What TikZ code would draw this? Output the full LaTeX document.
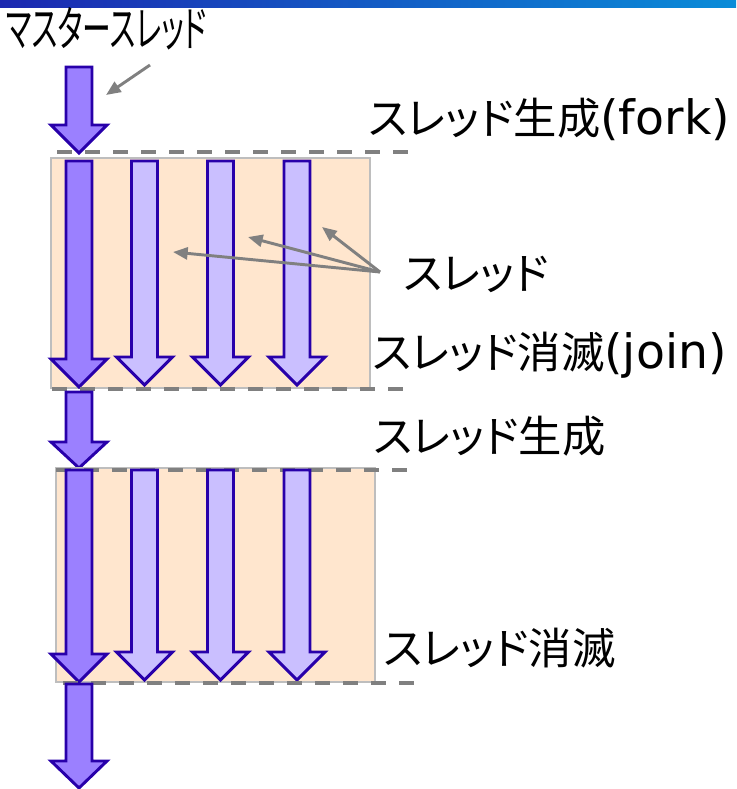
\documentclass[tikz,border=0pt]{standalone}
\usepackage{fontspec}
\newfontfamily\jp[RawFeature=+palt]{Noto Sans CJK JP}
\newfontfamily\latfam{DejaVu Sans}
\newcommand\lat{\latfam\fontsize{35.5pt}{38pt}\selectfont}
\usetikzlibrary{arrows.meta}
\definecolor{outl}{RGB}{40,0,170}
\definecolor{mfill}{RGB}{155,128,255}
\definecolor{tfill}{RGB}{202,191,255}
\definecolor{peach}{RGB}{255,230,206}
\definecolor{rborder}{RGB}{190,190,190}
\definecolor{dgray}{RGB}{128,128,128}
\definecolor{barL}{RGB}{28,40,176}
\definecolor{barR}{RGB}{10,140,216}
\tikzset{
  blk/.style={draw=outl, line width=2.2pt, line join=miter},
  region/.style={draw=rborder, line width=2.2pt, fill=peach},
  sep/.style={draw=dgray, line width=3pt, dash pattern=on 11pt off 10pt},
  pointer/.style={draw=dgray, line width=2.2pt, -{Triangle[length=11pt,width=9pt]}},
  lbl/.style={anchor=west, inner sep=0pt, font=\jp\fontsize{32.5pt}{38pt}\selectfont},
  ttl/.style={anchor=west, inner sep=0pt, font=\jp\fontsize{36pt}{40pt}\selectfont},
}
\newcommand\blkarrow[5]{%
  \draw[blk, fill=#5] (#1-13,#2) -- (#1+13,#2) -- (#1+13,#3) -- (#1+28,#3) -- (#1,#4) -- (#1-28,#3) -- (#1-13,#3) -- cycle;}
\begin{document}
\begin{tikzpicture}[x=0.75pt,y=-0.75pt]
\useasboundingbox (0,0) rectangle (736,789);
% top bar
\shade[left color=barL, right color=barR] (0,0) rectangle (736,7);
% title
\node[ttl] (title) at (6,29) {\scalebox{0.6}[1]{マスタースレッド}};
% first master arrow
\blkarrow{79}{67}{125}{153}{mfill}
\coordinate (p0s) at (150,65);
\coordinate (p0e) at (106,95);
\draw[pointer] (p0s) -- (p0e);
% region 1
\draw[region] (51,158) rectangle (370,388);
\draw[sep] (57,152) -- (408,152);
\blkarrow{79}{161}{359}{387}{mfill}
\blkarrow{144.5}{161}{357}{385}{tfill}
\blkarrow{220.5}{161}{357}{385}{tfill}
\blkarrow{297}{161}{357}{385}{tfill}
\draw[sep] (52,389) -- (405,389);
% between arrow
\blkarrow{79}{392}{442}{468}{mfill}
% region 2
\draw[region] (56,468) rectangle (375,682);
\draw[sep] (56,470) -- (408,470);
\blkarrow{79}{470}{654}{682}{mfill}
\blkarrow{144.5}{470}{652}{680}{tfill}
\blkarrow{220.5}{470}{652}{680}{tfill}
\blkarrow{297}{470}{652}{680}{tfill}
\draw[sep] (63,683) -- (415,683);
% last arrow
\blkarrow{79}{684}{761}{788}{mfill}
% labels
\node[lbl] (fork) at (368,119) {スレッド生成{\lat (fork)}};
\node[lbl] (thr) at (403,274) {スレッド};
\node[lbl] (join) at (372,355) {スレッド消滅{\lat (join)}};
\node[lbl] (fork2) at (373,436) {スレッド生成};
\node[lbl] (join2) at (383,648) {スレッド消滅};
% pointers
\coordinate (ps) at (380,272);
\coordinate (t1) at (173,252);
\coordinate (t2) at (248,237);
\coordinate (t3) at (322,227);
\draw[pointer] (ps) -- (t1);
\draw[pointer] (ps) -- (t2);
\draw[pointer] (ps) -- (t3);
\end{tikzpicture}
\end{document}
